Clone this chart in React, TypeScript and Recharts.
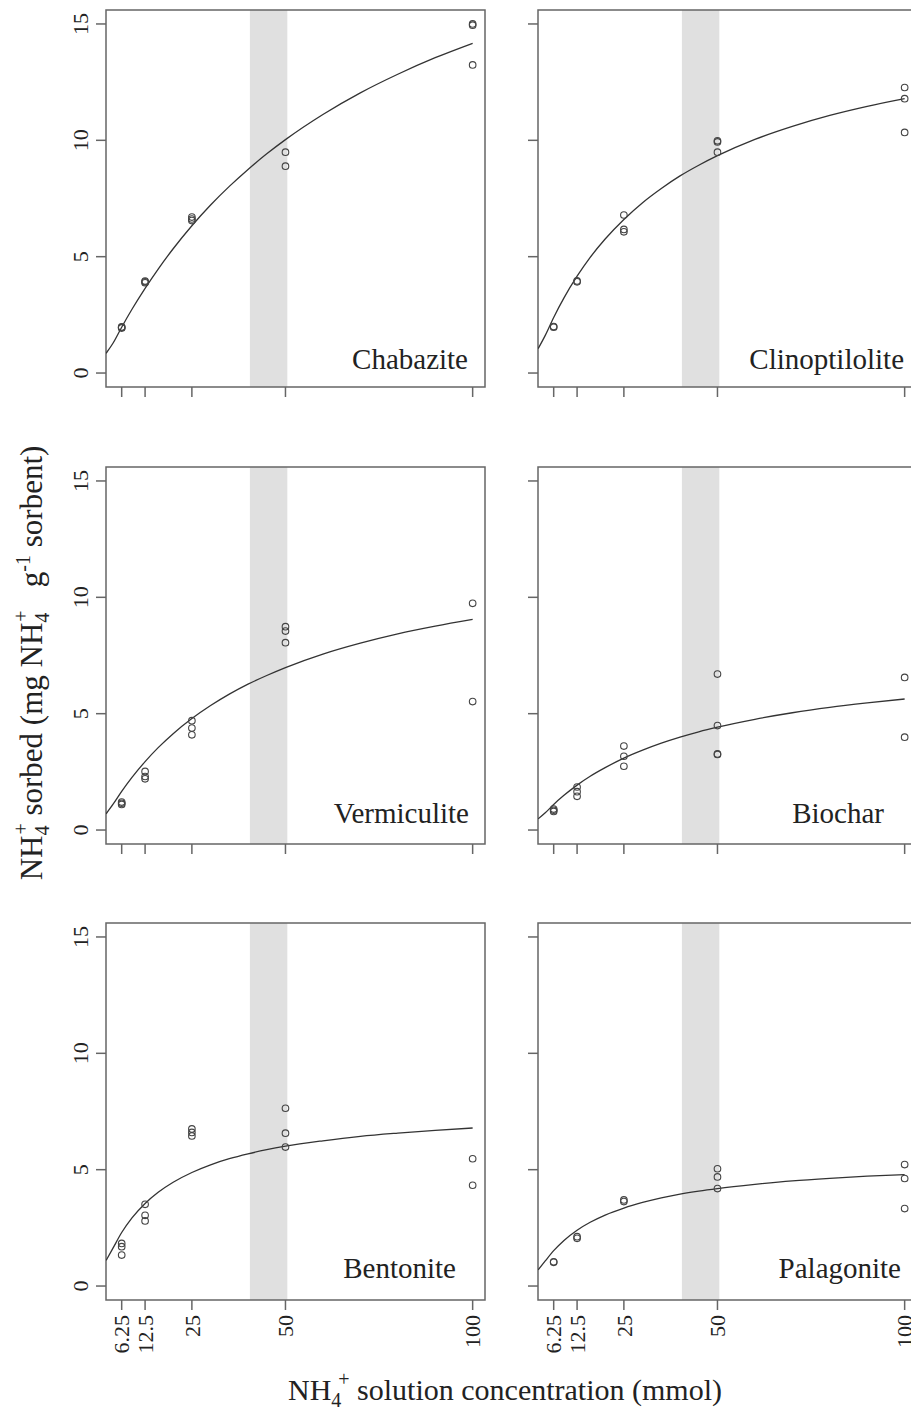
import { ComposedChart, Line, Scatter, XAxis, YAxis, ReferenceArea } from 'recharts';

// NH4+ concentration levels (mmol) and axis ticks
const conc = [6.25, 12.5, 25, 50, 100];
const concLabels = ['6.25', '12.5', '25', '50', '100'];
const qTicks = [0, 5, 10, 15];

const fitConc = [2.1, 4, 6.25, 9, 12.5, 16, 20, 25, 30, 35, 40, 45, 50, 60, 70, 80, 90, 100];

// replicate observations, one list per concentration level
const chabaziteObs = [[1.93, 1.96, 1.98], [3.88, 3.92, 3.95], [6.55, 6.62, 6.7], [9.49, 8.89], [15.0, 14.95, 13.24]];
const clinoptiloliteObs = [[1.97, 2.0], [3.92, 3.96], [6.79, 6.17, 6.07], [9.98, 9.93, 9.49], [12.27, 11.79, 10.34]];
const vermiculiteObs = [[1.1, 1.15, 1.2], [2.52, 2.3, 2.2], [4.7, 4.38, 4.09], [8.74, 8.55, 8.05], [9.74, 5.52]];
const biocharObs = [[0.9, 0.85, 0.8], [1.85, 1.65, 1.45], [3.61, 3.17, 2.74], [6.7, 4.49, 3.25, 3.27], [6.56, 3.99]];
const bentoniteObs = [[1.83, 1.69, 1.33], [3.51, 3.04, 2.8], [6.75, 6.6, 6.45], [7.64, 6.57, 5.97], [5.47, 4.33]];
const palagoniteObs = [[1.04, 1.02], [2.05, 2.12], [3.7, 3.63], [5.04, 4.69, 4.19], [5.22, 4.62, 3.33]];

// fitted curves, read at fitConc
const chabaziteFit = [0.85, 1.3, 1.97, 2.74, 3.64, 4.47, 5.34, 6.33, 7.22, 8.02, 8.75, 9.42, 10.03, 11.11, 12.04, 12.84, 13.55, 14.17];
const clinoptiloliteFit = [1.05, 1.62, 2.39, 3.23, 4.16, 4.97, 5.76, 6.6, 7.32, 7.93, 8.47, 8.93, 9.34, 10.04, 10.6, 11.07, 11.46, 11.79];
const vermiculiteFit = [0.7, 1.12, 1.66, 2.26, 2.94, 3.54, 4.14, 4.79, 5.35, 5.84, 6.27, 6.64, 6.98, 7.56, 8.03, 8.43, 8.76, 9.05];
const biocharFit = [0.48, 0.74, 1.1, 1.49, 1.93, 2.31, 2.68, 3.09, 3.43, 3.73, 3.99, 4.22, 4.42, 4.76, 5.04, 5.27, 5.46, 5.63];
const bentoniteFit = [1.1, 1.65, 2.3, 2.93, 3.55, 4.03, 4.46, 4.88, 5.21, 5.47, 5.68, 5.86, 6.01, 6.24, 6.43, 6.57, 6.69, 6.79];
const palagoniteFit = [0.7, 1.08, 1.52, 1.96, 2.4, 2.74, 3.05, 3.35, 3.59, 3.79, 3.95, 4.08, 4.19, 4.37, 4.52, 4.63, 4.72, 4.79];

const names = ['Chabazite', 'Clinoptilolite', 'Vermiculite', 'Biochar', 'Bentonite', 'Palagonite'];
const obsSets = [chabaziteObs, clinoptiloliteObs, vermiculiteObs, biocharObs, bentoniteObs, palagoniteObs];
const fitSets = [chabaziteFit, clinoptiloliteFit, vermiculiteFit, biocharFit, bentoniteFit, palagoniteFit];

// shaded concentration band
const bandStart = 40.5;
const bandEnd = 50.5;

// layout
const X_DOMAIN: [number, number] = [2.06, 103.3];
const Y_DOMAIN: [number, number] = [-0.6, 15.6];
const PLOT_W = 379;
const PLOT_H = 377;
const AXIS_W = 70;
const AXIS_H = 70;
const colLeft = [106, 538];
const rowTop = [10, 467, 923];
const labelEnd = [362, 366, 363, 346, 350, 363];
const labelBase = [359, 359, 356, 356, 355, 355];

const FONT = '"Liberation Serif", "Times New Roman", serif';
const AXIS_COLOR = '#666';

function XTick({ x, y, payload, show }: any) {
  if (!show) return null;
  const i = conc.indexOf(payload.value);
  return (
    <text
      x={x}
      y={y + 3}
      dy="0.35em"
      textAnchor="end"
      transform={`rotate(-90, ${x}, ${y + 3})`}
      fontFamily={FONT}
      fontSize={22}
      fill="#222"
    >
      {concLabels[i]}
    </text>
  );
}

function YTick({ x, y, payload, show }: any) {
  if (!show) return null;
  const bx = x - 6;
  return (
    <text
      x={bx}
      y={y}
      textAnchor="middle"
      transform={`rotate(-90, ${bx}, ${y})`}
      fontFamily={FONT}
      fontSize={22}
      fill="#222"
    >
      {payload.value}
    </text>
  );
}

function Ring({ cx, cy }: any) {
  if (cx == null || cy == null) return null;
  return <circle cx={cx} cy={cy} r={3.3} fill="none" stroke="#444" strokeWidth={1.1} />;
}

function Panel({ idx }: { idx: number }) {
  const col = idx % 2;
  const row = Math.floor(idx / 2);
  const points = obsSets[idx].flatMap((reps, i) => reps.map(q => ({ x: conc[i], y: q })));
  const curve = fitConc.map((c, i) => ({ x: c, y: fitSets[idx][i] }));

  return (
    <div style={{ position: 'absolute', left: colLeft[col] - AXIS_W, top: rowTop[row] - 10 }}>
      <ComposedChart
        width={AXIS_W + PLOT_W + 10}
        height={10 + PLOT_H + AXIS_H}
        margin={{ top: 10, right: 10, bottom: 0, left: 0 }}
      >
        <XAxis
          type="number"
          dataKey="x"
          domain={X_DOMAIN}
          allowDataOverflow
          ticks={conc}
          interval={0}
          height={AXIS_H}
          axisLine={false}
          tickSize={10}
          tickLine={{ stroke: AXIS_COLOR, strokeWidth: 1.5 }}
          tick={<XTick show={row === 2} />}
        />
        <YAxis
          type="number"
          dataKey="y"
          domain={Y_DOMAIN}
          allowDataOverflow
          ticks={qTicks}
          interval={0}
          width={AXIS_W}
          axisLine={false}
          tickSize={10}
          tickLine={{ stroke: AXIS_COLOR, strokeWidth: 1.5 }}
          tick={<YTick show={col === 0} />}
        />
        <ReferenceArea x1={bandStart} x2={bandEnd} fill="#e0e0e0" fillOpacity={1} stroke="none" />
        <Line
          data={curve}
          dataKey="y"
          type="monotone"
          stroke="#333"
          strokeWidth={1.3}
          dot={false}
          activeDot={false}
          isAnimationActive={false}
        />
        <Scatter data={points} dataKey="y" shape={<Ring />} isAnimationActive={false} />
        <ReferenceArea
          x1={X_DOMAIN[0]}
          x2={X_DOMAIN[1]}
          y1={Y_DOMAIN[0]}
          y2={Y_DOMAIN[1]}
          fill="none"
          stroke={AXIS_COLOR}
          strokeWidth={1.5}
          ifOverflow="visible"
        />
      </ComposedChart>
    </div>
  );
}

export default function App() {
  return (
    <div
      style={{
        position: 'absolute',
        left: 0,
        top: 0,
        width: 911,
        height: 1410,
        overflow: 'hidden',
        background: '#fff',
      }}
    >
      {names.map((_, i) => (
        <Panel key={i} idx={i} />
      ))}
      <svg
        width={911}
        height={1410}
        style={{ position: 'absolute', left: 0, top: 0, pointerEvents: 'none' }}
        fontFamily={FONT}
        fill="#222"
      >
        {names.map((n, i) => (
          <text
            key={n}
            x={colLeft[i % 2] + labelEnd[i]}
            y={rowTop[Math.floor(i / 2)] + labelBase[i]}
            textAnchor="end"
            fontSize={29}
          >
            {n}
          </text>
        ))}
        <text x={42} y={663} textAnchor="middle" transform="rotate(-90, 42, 663)" fontSize={31}>
          NH
          <tspan dy={7} fontSize={20}>4</tspan>
          <tspan dx={-9} dy={-21} fontSize={20}>+</tspan>
          <tspan dy={14}> sorbed (mg NH</tspan>
          <tspan dy={7} fontSize={20}>4</tspan>
          <tspan dx={-9} dy={-21} fontSize={20}>+</tspan>
          <tspan dy={14}>{'\u00a0\u00a0\u00a0g'}</tspan>
          <tspan dy={-12} fontSize={20}>-1</tspan>
          <tspan dy={12}> sorbent)</tspan>
        </text>
        <text x={505} y={1400} textAnchor="middle" fontSize={30}>
          NH
          <tspan dy={7} fontSize={20}>4</tspan>
          <tspan dx={-3} dy={-21} fontSize={20}>+</tspan>
          <tspan dy={14}> solution concentration (mmol)</tspan>
        </text>
      </svg>
    </div>
  );
}
